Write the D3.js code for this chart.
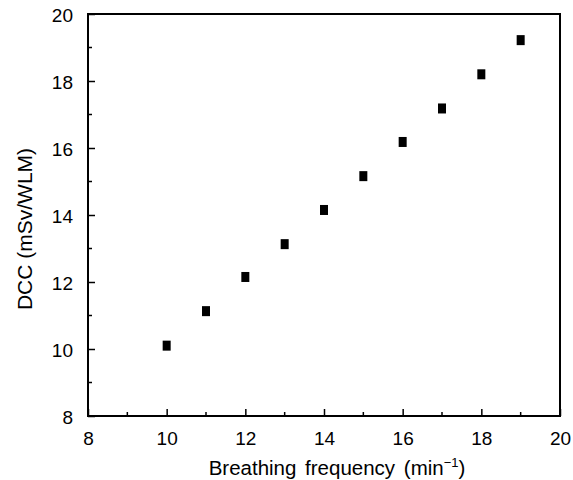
<!DOCTYPE html>
<html>
<head>
<meta charset="utf-8">
<script src="https://cdn.jsdelivr.net/npm/d3@7"></script>
<style>
  body { margin: 0; background: #fff; }
  text { font-family: "Liberation Sans", Arial, sans-serif; fill: #000; }
</style>
</head>
<body>
<div id="chart"></div>
<script>
// Data
const freq = [10, 11, 12, 13, 14, 15, 16, 17, 18, 19];
const dcc = [10.1, 11.13, 12.15, 13.13, 14.15, 15.16, 16.18, 17.18, 18.2, 19.22];
const xTicks = [8, 10, 12, 14, 16, 18, 20];
const yTicks = [8, 10, 12, 14, 16, 18, 20];
const minorTicks = [9, 11, 13, 15, 17, 19];

const width = 573, height = 480;
const margin = { top: 14, right: 13, bottom: 64, left: 88 };

const svg = d3.select("#chart").append("svg")
    .attr("width", width)
    .attr("height", height);

const x = d3.scaleLinear().domain([8, 20]).range([margin.left, width - margin.right]);
const y = d3.scaleLinear().domain([8, 20]).range([height - margin.bottom, margin.top]);

// Frame
svg.append("rect")
    .attr("x", x(8))
    .attr("y", y(20))
    .attr("width", x(20) - x(8))
    .attr("height", y(8) - y(20))
    .attr("fill", "none")
    .attr("stroke", "#000")
    .attr("stroke-width", 2);

// X axis (ticks point inward)
const xAxis = svg.append("g")
    .attr("transform", `translate(0,${y(8)})`)
    .call(d3.axisBottom(x).tickValues(xTicks).tickSizeInner(-7).tickSizeOuter(0).tickPadding(16));
xAxis.select(".domain").remove();
xAxis.selectAll("line").attr("stroke-width", 1.5);
xAxis.selectAll("text").style("font-size", "19px").attr("dy", "0.71em");

svg.append("g")
    .attr("transform", `translate(0,${y(8)})`)
    .selectAll("line")
    .data(minorTicks)
    .join("line")
    .attr("x1", d => x(d)).attr("x2", d => x(d))
    .attr("y1", 0).attr("y2", -4)
    .attr("stroke", "#000")
    .attr("stroke-width", 1.5);

// Y axis
const yAxis = svg.append("g")
    .attr("transform", `translate(${x(8)},0)`)
    .call(d3.axisLeft(y).tickValues(yTicks).tickSizeInner(-7).tickSizeOuter(0).tickPadding(15));
yAxis.select(".domain").remove();
yAxis.selectAll("line").attr("stroke-width", 1.5);
yAxis.selectAll("text").style("font-size", "19px").attr("dy", "0.4em");

svg.append("g")
    .attr("transform", `translate(${x(8)},0)`)
    .selectAll("line")
    .data(minorTicks)
    .join("line")
    .attr("y1", d => y(d)).attr("y2", d => y(d))
    .attr("x1", 0).attr("x2", 4)
    .attr("stroke", "#000")
    .attr("stroke-width", 1.5);

// Points
svg.append("g")
    .selectAll("rect")
    .data(freq)
    .join("rect")
    .attr("x", (d, i) => x(d) - 4)
    .attr("y", (d, i) => y(dcc[i]) - 5)
    .attr("width", 8)
    .attr("height", 10)
    .attr("fill", "#000");

// Axis labels
const xl = svg.append("text")
    .attr("x", 337)
    .attr("y", 475)
    .attr("text-anchor", "middle")
    .style("font-size", "20.5px")
    .style("word-spacing", "3px");
xl.append("tspan").text("Breathing frequency (min");
xl.append("tspan").text("\u22121").attr("dy", -8).style("font-size", "13px");
xl.append("tspan").text(")").attr("dy", 8);

svg.append("text")
    .attr("transform", `translate(32,229) rotate(-90)`)
    .attr("text-anchor", "middle")
    .style("font-size", "21px")
    .text("DCC (mSv/WLM)");
</script>
</body>
</html>
